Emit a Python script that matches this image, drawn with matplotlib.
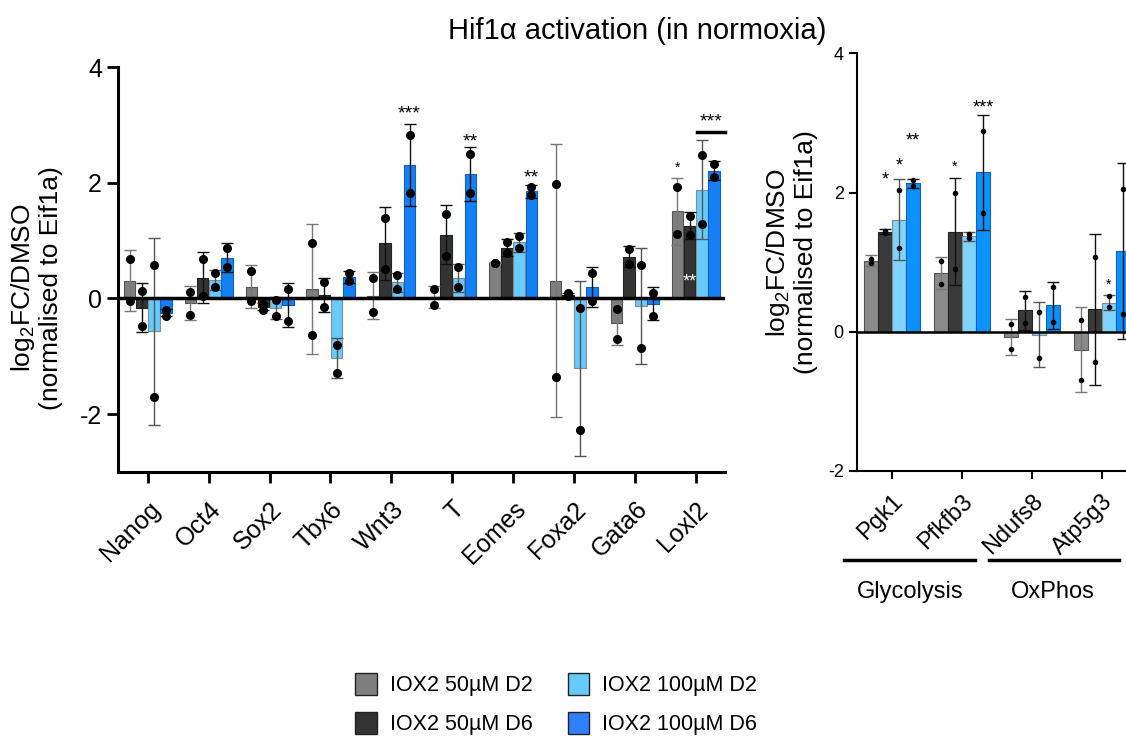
import numpy as np
import matplotlib
matplotlib.use("Agg")
import matplotlib.pyplot as plt
from matplotlib.patches import Patch

plt.rcParams['font.family'] = ['Liberation Sans', 'DejaVu Sans']
plt.rcParams['mathtext.fontset'] = 'custom'
plt.rcParams['mathtext.rm'] = 'Liberation Sans'

series = ['IOX2 50µM D2', 'IOX2 50µM D6', 'IOX2 100µM D2', 'IOX2 100µM D6']

# left panel: developmental genes
genes = ['Nanog', 'Oct4', 'Sox2', 'Tbx6', 'Wnt3', 'T', 'Eomes', 'Foxa2', 'Gata6', 'Loxl2']
mean_l = [[0.31, -0.16, -0.57, -0.25],
          [-0.08, 0.36, 0.32, 0.70],
          [0.20, -0.14, -0.16, -0.11],
          [0.16, 0.06, -1.03, 0.37],
          [0.05, 0.95, 0.28, 2.31],
          [0.02, 1.10, 0.36, 2.15],
          [0.62, 0.88, 0.97, 1.85],
          [0.31, 0.06, -1.21, 0.20],
          [-0.43, 0.72, -0.13, -0.09],
          [1.51, 1.26, 1.88, 2.21]]
sd_l = [[0.52, 0.42, 1.61, 0.06],
        [0.29, 0.44, 0.17, 0.25],
        [0.37, 0.06, 0.19, 0.38],
        [1.12, 0.30, 0.34, 0.10],
        [0.41, 0.63, 0.16, 0.71],
        [0.19, 0.51, 0.24, 0.47],
        [0.01, 0.14, 0.16, 0.11],
        [2.36, 0.03, 1.51, 0.35],
        [0.37, 0.18, 1.01, 0.28],
        [0.58, 0.23, 0.85, 0.16]]
reps_l = [[[0.69, -0.05], [0.13, -0.47], [0.58, -1.71], [-0.20, -0.31]],
          [[0.12, -0.28], [0.68, 0.04], [0.44, 0.20], [0.88, 0.54]],
          [[0.47, -0.05], [-0.10, -0.20], [-0.03, -0.31], [0.16, -0.39]],
          [[0.96, -0.63], [0.28, -0.14], [-0.80, -1.28], [0.44, 0.31]],
          [[0.35, -0.23], [1.39, 0.51], [0.40, 0.17], [2.82, 1.82]],
          [[0.16, -0.12], [1.46, 0.74], [0.54, 0.20], [2.49, 1.82]],
          [[0.61, 0.62], [0.98, 0.78], [1.08, 0.87], [1.93, 1.78]],
          [[1.98, -1.36], [0.05, 0.09], [-0.16, -2.28], [0.44, -0.04]],
          [[-0.18, -0.70], [0.85, 0.60], [0.58, -0.85], [0.09, -0.31]],
          [[1.92, 1.11], [1.43, 1.09], [2.48, 1.28], [2.33, 2.10]]]

# right panel: metabolic genes
genes_r = ['Pgk1', 'Pfkfb3', 'Ndufs8', 'Atp5g3']
mean_r = [[1.02, 1.44, 1.61, 2.13],
          [0.84, 1.44, 1.37, 2.29],
          [-0.08, 0.31, -0.04, 0.38],
          [-0.26, 0.32, 0.42, 1.16]]
sd_r = [[0.08, 0.03, 0.58, 0.06],
        [0.23, 0.77, 0.06, 0.83],
        [0.26, 0.28, 0.47, 0.34],
        [0.61, 1.08, 0.11, 1.27]]
reps_r = [[[1.05, 0.99], [1.42, 1.45], [2.03, 1.21], [2.18, 2.10]],
          [[1.01, 0.68], [1.99, 0.90], [1.40, 1.34], [2.88, 1.70]],
          [[0.11, -0.25], [0.50, 0.12], [0.29, -0.37], [0.64, 0.14]],
          [[0.17, -0.69], [1.08, -0.44], [0.51, 0.36], [2.05, 0.26]]]

# significance marks: (gene index, series index, y, text, size, colour)
stars_l = [(4, 3, 3.18, '***', 14, 'black'), (5, 3, 2.71, '**', 14, 'black'),
           (6, 3, 2.09, '**', 14, 'black'), (9, 0, 2.25, '*', 10, 'black'),
           (9, 1, 0.28, '**', 13, 'white')]
stars_r = [(0, 1, 2.18, '*', 13), (0, 2, 2.38, '*', 13), (0, 3, 2.74, '**', 13),
           (1, 1, 2.37, '*', 10), (1, 3, 3.22, '***', 13), (3, 2, 0.68, '*', 10)]

cols_l = ['#7f7f7f', '#333333', '#66ccff', '#1580f5']
cols_r = ['#8a8a8a', '#3a3a3a', '#7fd4ff', '#0a92fa']
edge = ['#555555', '#222222', '#8a8a8a', '#1060c0']
ecol = ['#777777', '#111111', '#555555', '#111111']
offs = [-0.3, -0.1, 0.1, 0.3]
w = 0.19

fig = plt.figure(figsize=(11.26, 7.38), dpi=100)
fig.text(0.566, 0.958, 'Hif1α activation (in normoxia)', fontsize=21, ha='center', va='center')


def draw(ax, mean, sd, reps, cols, ms, lw):
    m = np.array(mean)
    s = np.array(sd)
    x = np.arange(len(m))
    for j in range(4):
        xs = x + offs[j]
        ax.bar(xs, m[:, j], w, color=cols[j], edgecolor=edge[j], linewidth=0.8, zorder=2)
        ax.errorbar(xs, m[:, j], yerr=s[:, j], fmt='none', ecolor=ecol[j],
                    elinewidth=1, capsize=4, capthick=1, zorder=3)
        for i in range(len(m)):
            ax.plot([xs[i]] * 2, reps[i][j], 'o', color='black', ms=ms, zorder=4)
    ax.axhline(0, color='black', lw=lw, zorder=5)
    ax.spines['top'].set_visible(False)
    ax.spines['right'].set_visible(False)


ylab = 'log$_\\mathregular{2}$FC/DMSO\n(normalised to Eif1a)'

# left panel
ax = fig.add_axes([0.1048, 0.3604, 0.539, 0.5488])
draw(ax, mean_l, sd_l, reps_l, cols_l, 5.5, 2.5)
ax.set_xlim(-0.49, 9.48)
ax.set_ylim(-3.0, 4)
ax.set_yticks([-2, 0, 2, 4])
ax.set_yticklabels(['-2', '0', '2', '4'], fontsize=18)
ax.set_xticks(np.arange(len(genes)))
ax.set_xticklabels(genes, rotation=45, ha='right', rotation_mode='anchor', fontsize=18)
ax.spines['left'].set_linewidth(2.2)
ax.spines['bottom'].set_linewidth(2.2)
ax.tick_params(width=2, length=8)
ax.tick_params(axis='x', pad=10)
for g, s, y, t, fs, c in stars_l:
    ax.text(g + offs[s], y, t, ha='center', va='center', fontsize=fs, color=c, zorder=6)
# bar over the Loxl2 100uM pair
ax.plot([9.02, 9.48], [2.87, 2.87], color='black', lw=2.5, clip_on=False)
ax.text(9.26, 3.05, '***', ha='center', va='center', fontsize=14)
fig.text(0.032, 0.61, ylab, rotation=90, ha='center', va='center', fontsize=19,
         multialignment='center', linespacing=1.1)

# right panel, cut by the figure edge
ax2 = fig.add_axes([0.761, 0.3618, 0.2487, 0.566])
draw(ax2, mean_r, sd_r, reps_r, cols_r, 3, 1.8)
ax2.set_xlim(-0.5, 3.5)
ax2.set_ylim(-2, 4)
ax2.set_yticks([-2, 0, 2, 4])
ax2.set_yticklabels(['-2', '0', '2', '4'], fontsize=13)
ax2.set_xticks(np.arange(len(genes_r)))
ax2.set_xticklabels(genes_r, rotation=45, ha='right', rotation_mode='anchor', fontsize=17)
ax2.spines['left'].set_linewidth(1.5)
ax2.spines['bottom'].set_linewidth(1.5)
ax2.tick_params(width=1.5, length=6)
ax2.tick_params(axis='x', pad=8)
for g, s, y, t, fs in stars_r:
    ax2.text(g + offs[s], y, t, ha='center', va='center', fontsize=fs)
trans = ax2.get_xaxis_transform()
ax2.plot([-0.68, 1.18], [-0.213, -0.213], color='black', lw=2.5, transform=trans, clip_on=False)
ax2.plot([1.39, 3.25], [-0.213, -0.213], color='black', lw=2.5, transform=trans, clip_on=False)
ax2.text(0.26, -0.29, 'Glycolysis', transform=trans, ha='center', va='center', fontsize=17)
ax2.text(2.3, -0.29, 'OxPhos', transform=trans, ha='center', va='center', fontsize=17)
fig.text(0.7025, 0.658, ylab, rotation=90, ha='center', va='center', fontsize=19,
         multialignment='center', linespacing=1.1)

leg_cols = ['#7f7f7f', '#333333', '#66ccff', '#2f7fff']
handles = [Patch(facecolor=c, edgecolor='#222222', linewidth=1) for c in leg_cols]
fig.legend(handles, series, ncol=2, loc='center', bbox_to_anchor=(0.494, 0.046), frameon=False,
           fontsize=15.5, handlelength=1.0, handleheight=1.2, columnspacing=1.65, labelspacing=0.75,
           handletextpad=0.6)

fig.savefig('out.png', dpi=100)
